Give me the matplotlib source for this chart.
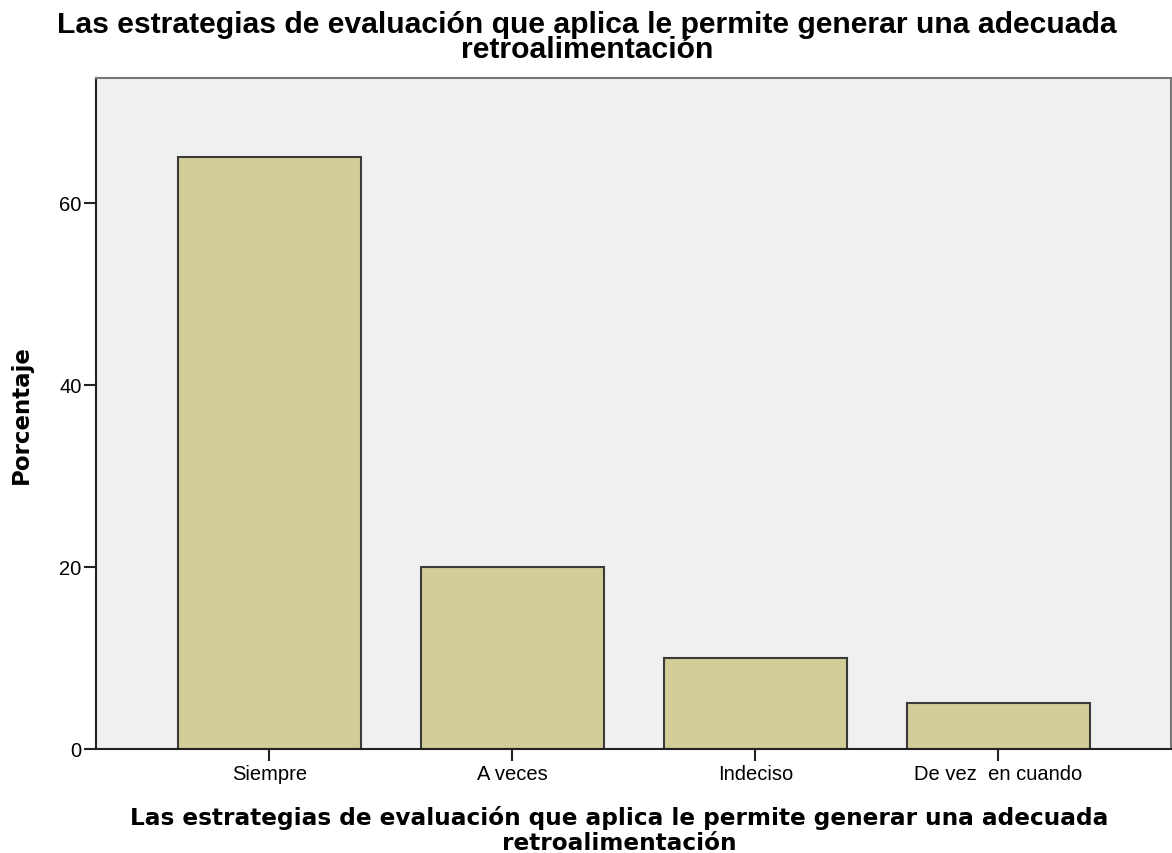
import matplotlib
matplotlib.use("Agg")
import matplotlib.pyplot as plt
import numpy as np

# datos de la grafica
categorias = ["Siempre", "A veces", "Indeciso", "De vez  en cuando"]
porcentajes = [65, 20, 10, 5]
yticks = [0, 20, 40, 60]
titulo = "Las estrategias de evaluación que aplica le permite generar una adecuada\nretroalimentación"

fig = plt.figure(figsize=(11.72, 8.54), dpi=100)
ax = fig.add_axes([0.0819, 0.1218, 0.9172, 0.7857])
ax.set_facecolor("#f0f0f0")

x = np.arange(len(categorias))
ax.bar(x, porcentajes, width=0.753, color="#d3ce97", edgecolor="#3a3a3a", linewidth=1.5, zorder=2)

ax.set_xlim(-0.714, 3.71)
ax.set_ylim(0, 73.7)
ax.set_xticks(x)
ax.set_xticklabels(categorias, family="Liberation Sans", fontsize=14.5)
ax.set_yticks(yticks)
ax.set_yticklabels([str(v) for v in yticks], family="Liberation Sans", fontsize=14.5)
ax.tick_params(axis="both", direction="out", length=8.5, width=1.5, color="#222222", pad=2)

for s in ["left", "bottom"]:
    ax.spines[s].set_linewidth(1.5)
    ax.spines[s].set_color("#222222")
for s in ["top", "right"]:
    ax.spines[s].set_linewidth(1.5)
    ax.spines[s].set_color("#777777")

# etiquetas de los ejes
ax.set_ylabel("Porcentaje", family="DejaVu Sans", fontweight="bold", fontsize=16.5)
ax.yaxis.set_label_coords(-0.0585, 0.5)
ax.set_xlabel(titulo, family="DejaVu Sans", fontweight="bold", fontsize=16.7, linespacing=1.13)
ax.xaxis.label.set_verticalalignment("top")
ax.xaxis.set_label_coords(0.4866, -0.0834)

fig.text(0.501, 0.987, titulo, ha="center", va="top", family="Liberation Sans",
         fontweight="bold", fontsize=21.7, linespacing=0.86)

fig.savefig("out.png", dpi=100)
